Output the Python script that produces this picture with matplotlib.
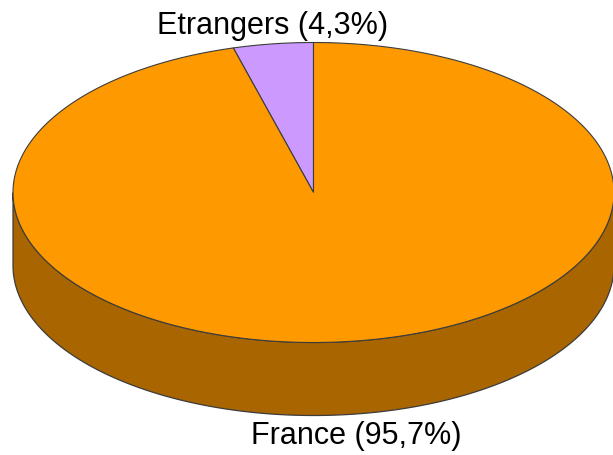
import matplotlib
matplotlib.use("Agg")
import matplotlib.pyplot as plt
import numpy as np

# slices, counterclockwise from 12 o'clock
labels = ['Etrangers', 'France']
shares = [4.3, 95.7]
label_text = ['Etrangers (4,3%)', 'France (95,7%)']

top_colors = ['#CC99FF', '#FF9900']
side_colors = ['#8A66B0', '#A86500']
edge_color = '#3C3C3C'

# pie geometry in pixel units
cx, cy = 313.5, 192.5
rx, ry = 300.5, 150.0
depth = 73.0
start_angle = 90.0


def point(theta_deg, drop=0.0):
    t = np.radians(theta_deg)
    return cx + rx * np.cos(t), cy - ry * np.sin(t) + drop


fig = plt.figure(figsize=(6.13, 4.55), dpi=100)
ax = fig.add_axes([0, 0, 1, 1])
ax.set_xlim(0, 613)
ax.set_ylim(455, 0)
ax.axis('off')

total = sum(shares)
bounds = []
a0 = start_angle
for s in shares:
    a1 = a0 + 360.0 * s / total
    bounds.append((a0, a1))
    a0 = a1

# side walls (only the front half is visible)
for (a0, a1), col in zip(bounds, side_colors):
    th = np.linspace(a0, a1, 800)
    front = np.sin(np.radians(th)) < 0
    if not front.any():
        continue
    th = th[front]
    xt, yt = point(th)
    xb, yb = point(th[::-1], depth)
    ax.fill(np.concatenate([xt, xb]), np.concatenate([yt, yb]),
            facecolor=col, edgecolor=edge_color, linewidth=0.9, zorder=1)

# top faces
for (a0, a1), col in zip(bounds, top_colors):
    th = np.linspace(a0, a1, 600)
    xs, ys = point(th)
    xs = np.concatenate([[cx], xs, [cx]])
    ys = np.concatenate([[cy], ys, [cy]])
    ax.fill(xs, ys, facecolor=col, edgecolor=edge_color, linewidth=0.8, zorder=2)

# labels
ax.text(273, 26, label_text[0], ha='center', va='center',
        fontsize=22, family='Liberation Sans', color='black')
ax.text(356, 436, label_text[1], ha='center', va='center',
        fontsize=22, family='Liberation Sans', color='black')

fig.savefig('out.png', dpi=100)
